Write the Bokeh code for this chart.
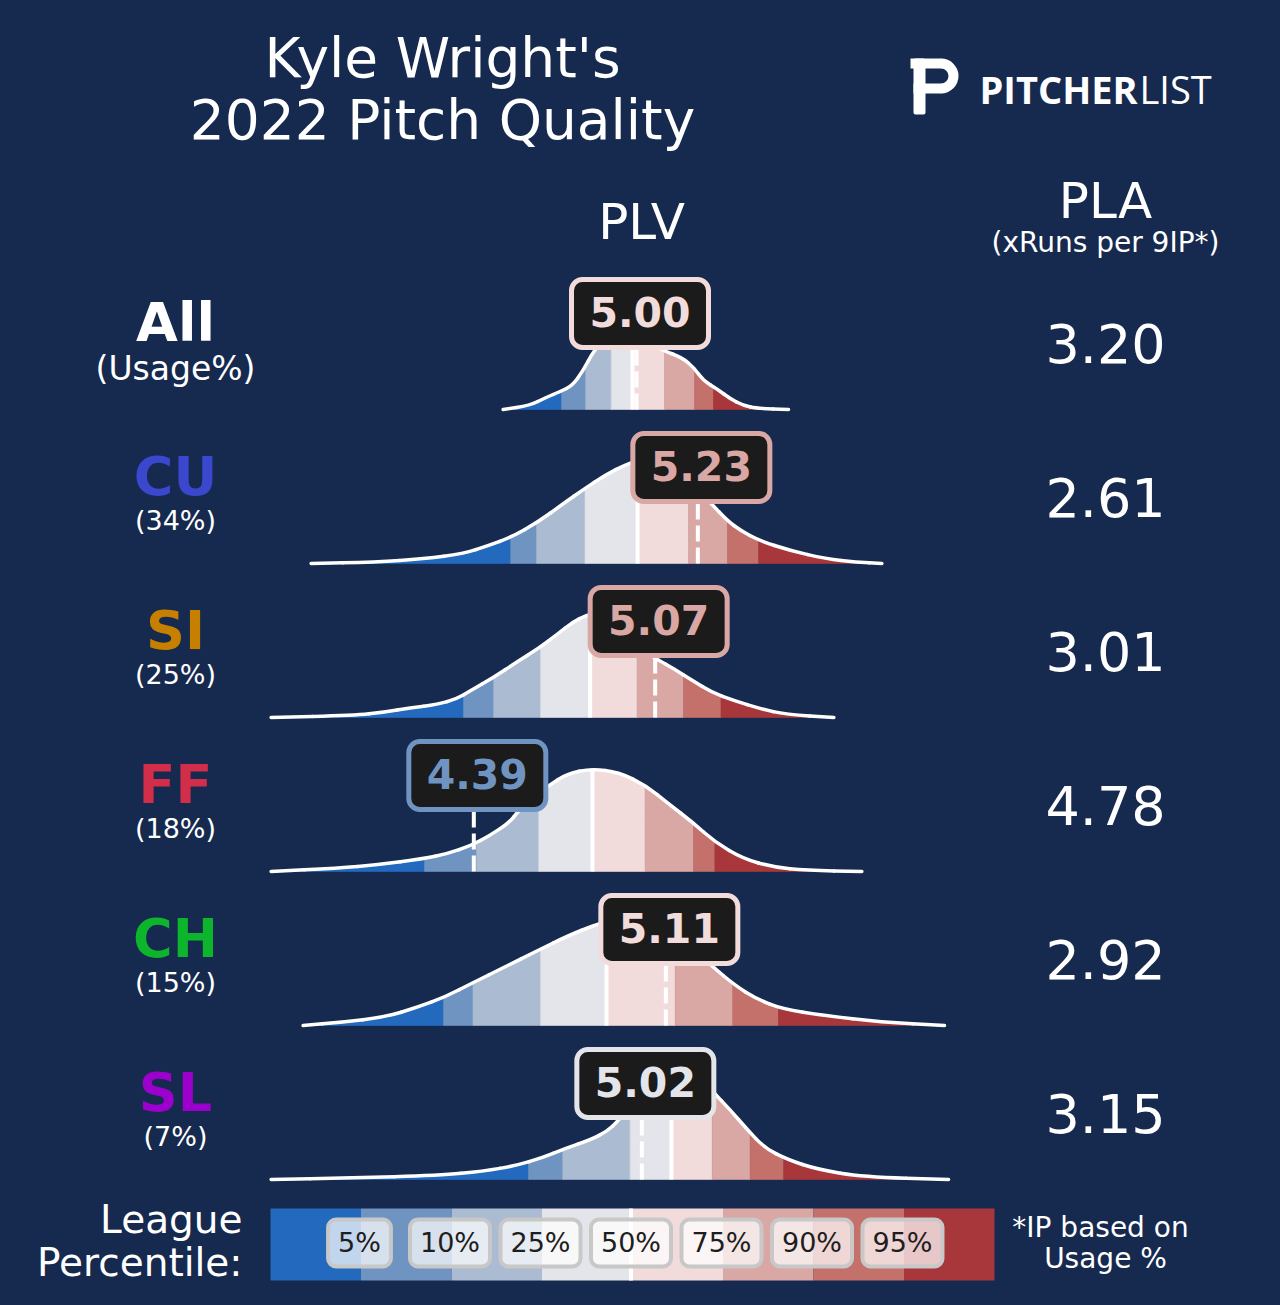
import numpy as np
from bokeh.plotting import figure
from bokeh.models import Range1d
from bokeh.core.properties import value
from bokeh.embed import file_html
from bokeh.resources import INLINE

# ---------------- data ----------------
pitch_names = ["All", "CU", "SI", "FF", "CH", "SL"]
usage_labels = ["(Usage%)", "(34%)", "(25%)", "(18%)", "(15%)", "(7%)"]
pitch_colors = ["#ffffff", "#3b47cc", "#c77f00", "#d22d49", "#0cb52c", "#9b00cc"]
plv_values = [5.00, 5.23, 5.07, 4.39, 5.11, 5.02]
pla_values = [3.20, 2.61, 3.01, 4.78, 2.92, 3.15]

percentile_labels = ["5%", "10%", "25%", "50%", "75%", "90%", "95%"]
band_colors = ["#2369bd", "#6f94c1", "#aabbd2", "#e4e5ea",
               "#f2dcdb", "#d9a7a4", "#c4716c", "#a8373b"]

# league density curves (PLV, relative density) and league percentiles per pitch
x_all = [4.50, 4.60, 4.66, 4.715, 4.76, 4.80, 4.84, 4.885, 4.94, 5.015, 5.07, 5.10,
         5.17, 5.215, 5.25, 5.305, 5.35, 5.40, 5.455, 5.57]
d_all = [0.00, 0.04, 0.12, 0.18, 0.24, 0.39, 0.59, 0.71, 0.75, 0.73, 0.64, 0.59,
         0.52, 0.42, 0.29, 0.20, 0.11, 0.04, 0.01, 0.00]
pct_all = [4.719, 4.809, 4.905, 4.985, 5.105, 5.218, 5.289]

x_cu = [3.78, 4.02, 4.205, 4.35, 4.445, 4.53, 4.63, 4.725, 4.805, 4.88, 4.965, 5.035,
        5.11, 5.185, 5.24, 5.28, 5.34, 5.39, 5.46, 5.575, 5.71, 5.825, 5.92]
d_cu = [0.00, 0.013, 0.047, 0.097, 0.18, 0.263, 0.413, 0.597, 0.747, 0.88, 0.997, 1.05,
        1.02, 0.87, 0.71, 0.60, 0.43, 0.33, 0.23, 0.13, 0.047, 0.013, 0.00]
pct_cu = [4.528, 4.625, 4.807, 5.004, 5.195, 5.341, 5.458]

x_si = [3.63, 3.94, 4.055, 4.15, 4.255, 4.325, 4.38, 4.465, 4.55, 4.63, 4.705, 4.76,
        4.81, 4.865, 4.93, 4.995, 5.05, 5.08, 5.14, 5.21, 5.28, 5.365, 5.465, 5.56, 5.74]
d_si = [0.00, 0.02, 0.053, 0.097, 0.13, 0.187, 0.27, 0.403, 0.553, 0.687, 0.837, 0.953,
        1.02, 1.06, 1.01, 0.85, 0.63, 0.577, 0.487, 0.37, 0.253, 0.17, 0.087, 0.03, 0.00]
pct_si = [4.351, 4.464, 4.64, 4.826, 5.002, 5.176, 5.317]

x_ff = [3.63, 3.88, 4.03, 4.20, 4.29, 4.38, 4.45, 4.525, 4.555, 4.61, 4.67, 4.74,
        4.83, 4.935, 5.035, 5.12, 5.21, 5.295, 5.40, 5.515, 5.635, 5.845]
d_ff = [0.00, 0.033, 0.067, 0.127, 0.177, 0.26, 0.36, 0.493, 0.60, 0.727, 0.86, 0.977,
        1.027, 0.993, 0.86, 0.677, 0.493, 0.293, 0.127, 0.043, 0.01, 0.00]
pct_ff = [4.205, 4.40, 4.633, 4.835, 5.032, 5.214, 5.294]

x_ch = [3.75, 3.895, 4.055, 4.18, 4.28, 4.39, 4.505, 4.63, 4.745, 4.84, 4.91, 4.995,
        5.09, 5.185, 5.24, 5.28, 5.37, 5.45, 5.545, 5.705, 5.915, 6.155]
d_ch = [0.00, 0.033, 0.083, 0.183, 0.283, 0.433, 0.583, 0.75, 0.90, 1.00, 1.06, 1.08,
        1.02, 0.85, 0.71, 0.60, 0.40, 0.267, 0.167, 0.10, 0.033, 0.00]
pct_ch = [4.276, 4.387, 4.64, 4.8875, 5.145, 5.361, 5.5325]

x_sl = [3.63, 3.925, 4.26, 4.425, 4.55, 4.645, 4.73, 4.83, 4.89, 4.93, 4.98, 5.05,
        5.13, 5.20, 5.26, 5.29, 5.35, 5.415, 5.48, 5.565, 5.68, 5.85, 6.17]
d_sl = [0.00, 0.017, 0.04, 0.083, 0.14, 0.217, 0.307, 0.40, 0.483, 0.583, 0.75, 0.92,
        1.02, 1.04, 0.98, 0.867, 0.70, 0.50, 0.317, 0.20, 0.10, 0.027, 0.00]
pct_sl = [4.595, 4.723, 4.976, 5.131, 5.284, 5.426, 5.552]

curve_x = [x_all, x_cu, x_si, x_ff, x_ch, x_sl]
curve_d = [d_all, d_cu, d_si, d_ff, d_ch, d_sl]
curve_pct = [pct_all, pct_cu, pct_si, pct_ff, pct_ch, pct_sl]

# ---------------- layout ----------------
BG = "#16294e"
FONT = value("DejaVu Sans")
W, H = 1280, 1305
PX_PER_PLV = 266.7
X_REF = 636.0          # page pixel of PLV 5.0


def XD(px):
    return 5.0 + (px - X_REF) / PX_PER_PLV


def DX(dpx):
    return dpx / PX_PER_PLV


def YD(py):
    return float(H) - py


p = figure(width=W, height=H, x_range=Range1d(XD(0), XD(W)),
           y_range=Range1d(0, H), output_backend="svg", toolbar_location=None,
           x_axis_location=None, y_axis_location=None, min_border=0)
p.background_fill_color = BG
p.border_fill_color = BG
p.outline_line_color = None
p.grid.grid_line_color = None


def txt(x, y, s, size, color="white", align="center", bold=False, font=FONT):
    p.text(x=[x], y=[y], text=[s], text_font=font, text_font_size=f"{size}px",
           text_color=color, text_align=align, text_baseline="middle",
           text_font_style="bold" if bold else "normal")


# title
txt(XD(442), YD(57.5), "Kyle Wright's", 55)
txt(XD(442), YD(119), "2022 Pitch Quality", 55)

# logo
p.quad(left=[XD(913)], right=[XD(925)], top=[YD(58)], bottom=[YD(114)],
       fill_color="white", line_color=None, border_radius=2)
p.quad(left=[XD(910), XD(913)], right=[XD(941), XD(941)], top=[YD(58), YD(83)],
       bottom=[YD(68), YD(93)], fill_color="white", line_color=None)
p.annular_wedge(x=[XD(940.5)], y=[YD(75.5)], inner_radius=7.5, outer_radius=17.5,
                inner_radius_units="screen", outer_radius_units="screen",
                start_angle=-np.pi / 2, end_angle=np.pi / 2,
                fill_color="white", line_color=None)
txt(XD(979), YD(88.5), "PITCHER", 38, align="left", bold=True, font=value("Open Sans"))
txt(XD(1139), YD(88.5), "LIST", 38, align="left", font=value("Open Sans"))

# headers
txt(XD(641), YD(221.5), "PLV", 50)
txt(XD(1105), YD(200.5), "PLA", 50)
txt(XD(1105), YD(242), "(xRuns per 9IP*)", 28)

ROW0, ROW_STEP, DENS_PX = 409, 154, 100

for i, name in enumerate(pitch_names):
    B = ROW0 + i * ROW_STEP
    y0 = YD(B)
    xs = np.array(curve_x[i], dtype=float)
    ys = y0 + np.array(curve_d[i], dtype=float) * DENS_PX
    pcts = curve_pct[i]
    edges = [xs[0]] + list(pcts) + [xs[-1]]
    pxs, pys = [], []
    for k in range(8):
        a, b = edges[k], edges[k + 1]
        inner = xs[(xs > a) & (xs < b)]
        bx = np.concatenate([[a], inner, [b]])
        by = np.interp(bx, xs, ys)
        pxs.append(list(bx) + [b, a])
        pys.append(list(by) + [y0, y0])
    p.patches(pxs, pys, fill_color=band_colors, line_color=band_colors, line_width=0.6)

    # smooth outline: quadratic curves through the midpoints of the read points
    mx = (xs[:-1] + xs[1:]) / 2
    my = (ys[:-1] + ys[1:]) / 2
    p.segment(x0=[xs[0], mx[-1]], y0=[ys[0], my[-1]], x1=[mx[0], xs[-1]],
              y1=[my[0], ys[-1]], line_color="white", line_width=3.5, line_cap="round")
    p.quadratic(x0=mx[:-1], y0=my[:-1], x1=mx[1:], y1=my[1:], cx=xs[1:-1], cy=ys[1:-1],
                line_color="white", line_width=3.5, line_cap="round")

    med = pcts[3]
    p.segment(x0=[med], y0=[y0], x1=[med], y1=[float(np.interp(med, xs, ys)) - 1],
              line_color="white", line_width=4)

    v = plv_values[i]
    p.segment(x0=[v], y0=[y0], x1=[v], y1=[YD(B - 62)], line_color="white",
              line_width=4, line_dash="16 6")

    band = int(np.searchsorted(pcts, v))
    col = band_colors[band]
    cx = v + DX(3.5)
    p.quad(left=[cx - DX(68.5)], right=[cx + DX(68.5)], bottom=[YD(B - 62)],
           top=[YD(B - 130)], fill_color="#1b1b1b", line_color=col,
           line_width=5, border_radius=11)
    txt(cx, YD(B - 98), f"{v:.2f}", 41, color=col, bold=True)

    # left labels
    txt(XD(175), YD(B - 87), name, 54, color=pitch_colors[i], bold=True)
    if i == 0:
        txt(XD(175), YD(B - 41), usage_labels[i], 33)
    else:
        txt(XD(175), YD(B - 43), usage_labels[i], 27)

    # PLA
    txt(XD(1105), YD(B - 66.5), f"{pla_values[i]:.2f}", 54)

# legend
LEG_L, LEG_W, LEG_T, LEG_B = 270.0, 90.5, 1208, 1280
lefts = [XD(LEG_L + k * LEG_W) for k in range(8)]
rights = [XD(LEG_L + (k + 1) * LEG_W) for k in range(8)]
p.quad(left=lefts, right=rights, top=YD(LEG_T), bottom=YD(LEG_B),
       fill_color=band_colors, line_color=None)
p.segment(x0=[XD(LEG_L + 4 * LEG_W - 1.5)], y0=[YD(LEG_T)], x1=[XD(LEG_L + 4 * LEG_W - 1.5)],
          y1=[YD(LEG_B)], line_color="white", line_width=4)
for j, lab in enumerate(percentile_labels):
    cxp = LEG_L + (j + 1) * LEG_W - 1.5
    wpx = 27 * (0.636 * (len(lab) - 1) + 0.95) + 20
    p.quad(left=[XD(cxp - wpx / 2)], right=[XD(cxp + wpx / 2)], top=[YD(1219)],
           bottom=[YD(1266)], fill_color="white", fill_alpha=0.72,
           line_color="#c8c8c8", line_width=4, border_radius=8)
    txt(XD(cxp), YD(1242), lab, 27, color="#1e1e1e")

txt(XD(242), YD(1219), "League", 39, align="right")
txt(XD(242), YD(1262), "Percentile:", 39, align="right")
txt(XD(1100), YD(1227), "*IP based on", 28)
txt(XD(1105), YD(1258), "Usage %", 28)

html = file_html(p, INLINE, title="Kyle Wright 2022 Pitch Quality")
html = html.replace("<head>", "<head><style>html,body{background:%s;}</style>" % BG, 1)
open("out.html", "w").write(html)
